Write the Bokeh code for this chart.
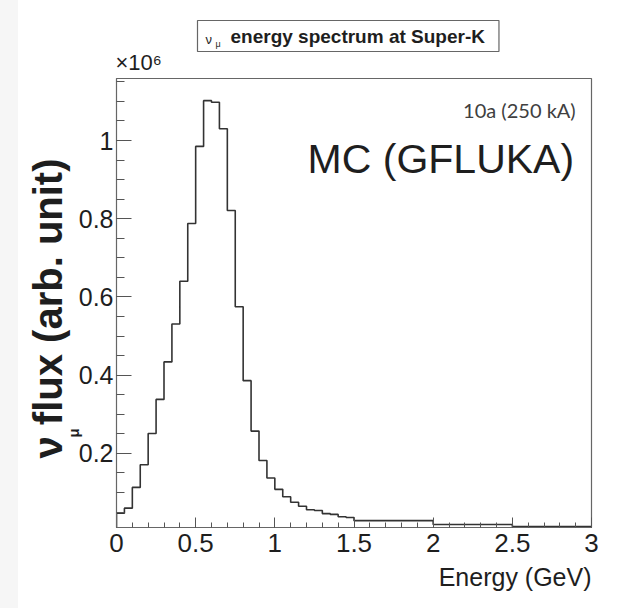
from bokeh.plotting import figure
from bokeh.layouts import row
from bokeh.models import Label, Title, Range1d, SingleIntervalTicker, CustomJSTickFormatter, ColumnDataSource, Spacer
from bokeh.embed import file_html
from bokeh.resources import INLINE

# ---- data (flux in units of 10^6) ----
bin_edges = [0.00, 0.05, 0.10, 0.15, 0.20, 0.25, 0.30, 0.35, 0.40, 0.45,
             0.50, 0.55, 0.60, 0.65, 0.70, 0.75, 0.80, 0.85, 0.90, 0.95,
             1.00, 1.05, 1.10, 1.15, 1.20, 1.25, 1.30, 1.35, 1.40, 1.45,
             1.50, 2.00, 2.50, 3.00]
flux = [0.047, 0.060, 0.113, 0.171, 0.251, 0.338, 0.434, 0.531, 0.640, 0.788,
        0.985, 1.102, 1.098, 1.030, 0.821, 0.575, 0.386, 0.257, 0.182, 0.137,
        0.108, 0.089, 0.075, 0.065, 0.056, 0.054, 0.046, 0.044, 0.038, 0.036,
        0.028, 0.018, 0.013]
x_tick_interval = 0.5
y_tick_interval = 0.2

# histogram outline built from the bins
xs = [bin_edges[0]]
ys = [0.0]
for i, v in enumerate(flux):
    xs += [bin_edges[i], bin_edges[i + 1]]
    ys += [v, v]
xs.append(bin_edges[-1])
ys.append(0.0)
src = ColumnDataSource(dict(x=xs, y=ys))

FONT = "Liberation Sans"
INK = "#1e1e1e"
STRIP = 18

p = figure(width=622 - STRIP, height=608, output_backend="svg", toolbar_location=None,
           x_range=Range1d(0, 3), y_range=Range1d(0.0105, 1.1586),
           min_border_left=116 - STRIP, min_border_right=31, min_border_top=78, min_border_bottom=81)
p.title.visible = False
p.xgrid.visible = False
p.ygrid.visible = False
p.outline_line_color = "#666666"
p.outline_line_width = 1.2
p.background_fill_color = "white"
p.border_fill_color = "white"

p.line("x", "y", source=src, line_color="#333333", line_width=1.6)

fmt = CustomJSTickFormatter(code="return String(Math.round(tick*10)/10)")

xa = p.xaxis[0]
xa.ticker = SingleIntervalTicker(interval=x_tick_interval, num_minor_ticks=5)
xa.formatter = fmt
xa.major_tick_in = 10
xa.major_tick_out = 0
xa.minor_tick_in = 5
xa.minor_tick_out = 0
xa.axis_line_color = "#666666"
xa.major_tick_line_color = "#555555"
xa.minor_tick_line_color = "#555555"
xa.major_label_text_font = FONT
xa.major_label_text_font_size = "26px"
xa.major_label_text_color = INK
xa.major_label_standoff = 6

ya = p.yaxis[0]
ya.ticker = SingleIntervalTicker(interval=y_tick_interval, num_minor_ticks=4)
ya.formatter = fmt
ya.major_tick_in = 15
ya.major_tick_out = 0
ya.minor_tick_in = 8
ya.minor_tick_out = 0
ya.axis_line_color = "#666666"
ya.major_tick_line_color = "#555555"
ya.minor_tick_line_color = "#555555"
ya.major_label_text_font = FONT
ya.major_label_text_font_size = "25px"
ya.major_label_text_color = INK
ya.major_label_standoff = 3

HAS_PAD = "padding" in Title.properties()


def ttl(side, text, size, offset, standoff, align="left", valign="bottom",
        style="normal", font=FONT, color=INK, **kw):
    kw = {k: v for k, v in kw.items() if HAS_PAD or k != "padding"}
    t = Title(text=text, align=align, offset=offset, standoff=standoff,
              vertical_align=valign, text_font=font, text_font_size=size,
              text_font_style=style, text_color=color, **kw)
    p.add_layout(t, side)


# ---- above panel (stacked from the frame upward) ----
ttl("above", "\u00d710\u2076", "22px", -1, 7)
ttl("above", "\u03bc", "9px", 99, -9)
ttl("above", "\u03bd", "13px", 89, -11)
ttl("above", "energy spectrum at Super-K", "19px", 81, -32, style="bold",
    border_line_color="#666666", border_line_width=1.2, background_fill_color=None,
    padding=dict(left=33, right=14, top=5, bottom=5))

# ---- left panel (stacked from the axis outward) ----
ttl("left", "\u03bc", "15px", 90, -12, style="bold")
ttl("left", "\u03bd flux (arb. unit)", "40px", 69, -3, style="bold")

# ---- below panel ----
ttl("below", "Energy (GeV)", "25px", 0, 16, align="right", valign="top")

# ---- texts inside the frame ----
p.add_layout(Label(x=2.9, y=1.079, text="10a (250 kA)", text_font="Lato",
                   text_font_size="20px", text_color="#404040",
                   text_align="right", text_baseline="alphabetic"))
p.add_layout(Label(x=2.89, y=0.952, text="MC (GFLUKA)", text_font=FONT,
                   text_font_size="41px", text_color=INK,
                   text_align="right", text_baseline="alphabetic"))

strip = Spacer(width=STRIP, height=608, styles={"background-color": "#f6f6f6"})
layout = row(strip, p, spacing=0)

open("out.html", "w").write(file_html(layout, INLINE))
